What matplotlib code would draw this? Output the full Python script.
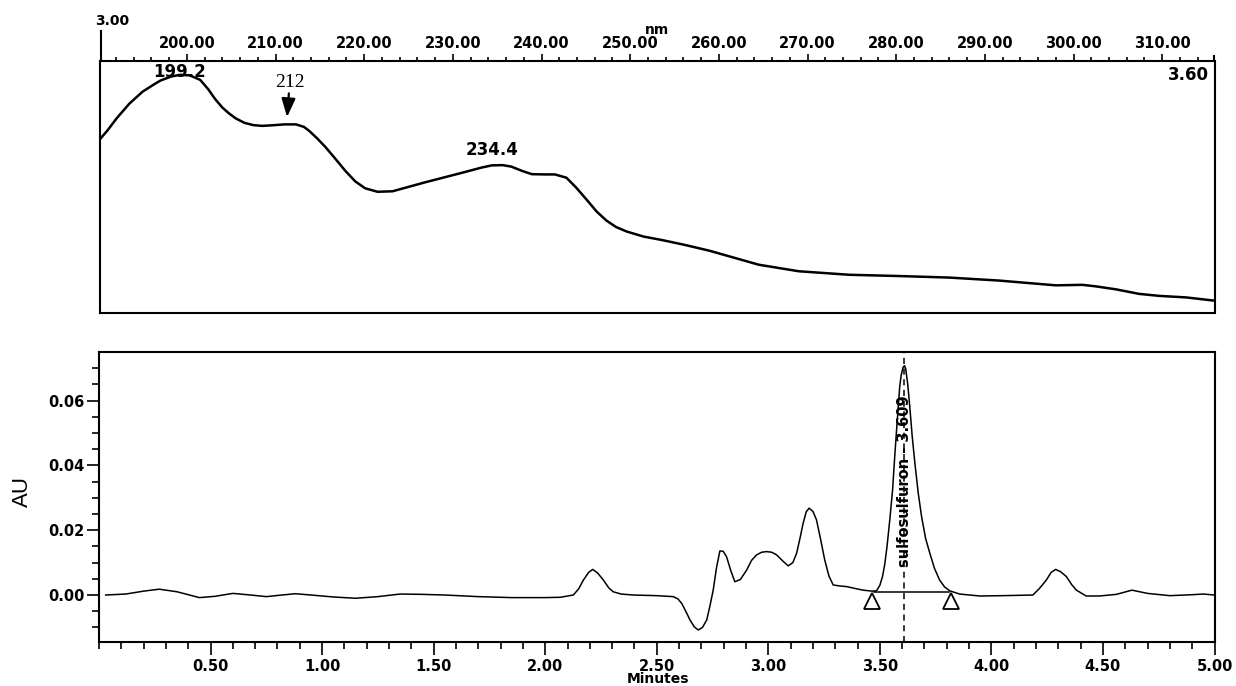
import numpy as np
import matplotlib
matplotlib.use("Agg")
import matplotlib.pyplot as plt
from matplotlib.ticker import MultipleLocator, FixedLocator
from matplotlib.lines import Line2D

# UV spectrum at 3.60 min (relative absorbance)
wavelength = [189.9, 191.0, 192.1, 193.5, 195.0, 196.2, 197.0, 198.2, 199.2, 200.3, 201.5,
              202.4, 203.2, 204.0, 204.7, 205.5, 206.5, 207.5, 208.5, 209.9, 211.0, 212.3,
              213.2, 213.8, 214.7, 215.6, 216.8, 217.9, 219.0, 220.1, 221.5, 223.2, 226.8,
              231.3, 233.2, 234.4, 235.6, 236.6, 237.8, 238.9, 240.3, 241.5, 242.8, 243.9,
              245.1, 246.2, 247.3, 248.4, 249.6, 251.5, 253.6, 256.0, 258.9, 261.5, 264.5,
              269.0, 274.7, 280.3, 285.9, 291.6, 295.3, 298.0, 301.0, 302.5, 304.8, 307.4,
              309.7, 312.7, 315.9]
absorb = [0.677, 0.722, 0.773, 0.830, 0.878, 0.905, 0.922, 0.938, 0.945, 0.943, 0.925,
          0.888, 0.848, 0.815, 0.793, 0.772, 0.754, 0.745, 0.742, 0.745, 0.748, 0.748,
          0.738, 0.722, 0.692, 0.659, 0.609, 0.562, 0.521, 0.494, 0.480, 0.482, 0.517,
          0.558, 0.576, 0.585, 0.586, 0.580, 0.563, 0.550, 0.549, 0.549, 0.536, 0.497,
          0.448, 0.402, 0.366, 0.340, 0.322, 0.302, 0.288, 0.270, 0.246, 0.220, 0.190,
          0.164, 0.150, 0.145, 0.139, 0.127, 0.116, 0.108, 0.110, 0.104, 0.092, 0.074,
          0.066, 0.060, 0.047]

# chromatogram
minutes = [0.03, 0.12, 0.20, 0.27, 0.35, 0.45, 0.52, 0.60, 0.68, 0.75, 0.82, 0.88, 0.95,
           1.05, 1.15, 1.25, 1.35, 1.45, 1.55, 1.70, 1.85, 2.00, 2.067, 2.126, 2.150,
           2.171, 2.195, 2.213, 2.235, 2.261, 2.285, 2.305, 2.340, 2.395, 2.50, 2.574,
           2.595, 2.612, 2.630, 2.649, 2.668, 2.686, 2.705, 2.724, 2.738, 2.753, 2.768,
           2.783, 2.798, 2.813, 2.832, 2.850, 2.875, 2.903, 2.925, 2.948, 2.970, 2.992,
           3.015, 3.037, 3.065, 3.089, 3.110, 3.127, 3.142, 3.156, 3.170, 3.183, 3.200,
           3.216, 3.235, 3.253, 3.272, 3.291, 3.320, 3.351, 3.390, 3.425, 3.465, 3.485,
           3.500, 3.512, 3.522, 3.532, 3.545, 3.557, 3.566, 3.575, 3.583, 3.589, 3.596,
           3.604, 3.610, 3.616, 3.625, 3.634, 3.645, 3.657, 3.672, 3.687, 3.705, 3.724,
           3.745, 3.768, 3.790, 3.813, 3.858, 3.948, 4.05, 4.186, 4.215, 4.246, 4.268,
           4.288, 4.310, 4.336, 4.360, 4.381, 4.425, 4.485, 4.56, 4.63, 4.70, 4.80,
           4.90, 4.95, 5.00]
au = [0.0000, 0.0003, 0.0012, 0.0018, 0.0010, -0.0008, -0.0004, 0.0005, 0.0000, -0.0005,
      0.0000, 0.0004, 0.0000, -0.0006, -0.0010, -0.0005, 0.0003, 0.0002, 0.0000, -0.0005,
      -0.0008, -0.0008, -0.0007, 0.0000, 0.0019, 0.0046, 0.0070, 0.0079, 0.0068, 0.0046,
      0.0022, 0.0010, 0.0003, 0.0000, -0.0002, -0.0005, -0.0012, -0.0026, -0.0050, -0.0077,
      -0.0098, -0.0108, -0.0100, -0.0077, -0.0035, 0.0015, 0.0085, 0.0136, 0.0135, 0.0118,
      0.0075, 0.0041, 0.0048, 0.0077, 0.0107, 0.0124, 0.0132, 0.0134, 0.0132, 0.0124,
      0.0105, 0.0090, 0.0100, 0.0129, 0.0175, 0.0221, 0.0257, 0.0268, 0.0258, 0.0232,
      0.0170, 0.0108, 0.0058, 0.0031, 0.0028, 0.0026, 0.0020, 0.0015, 0.0012, 0.0013,
      0.0030, 0.0057, 0.0095, 0.0149, 0.0235, 0.0324, 0.0420, 0.0510, 0.0585, 0.0643,
      0.0680, 0.0702, 0.0708, 0.0698, 0.0650, 0.0582, 0.0490, 0.0407, 0.0315, 0.0242,
      0.0175, 0.0129, 0.0082, 0.0046, 0.0025, 0.0013, 0.0003, -0.0003, -0.0002, 0.0000,
      0.0020, 0.0046, 0.0070, 0.0079, 0.0072, 0.0057, 0.0032, 0.0015, -0.0003, -0.0003,
      0.0002, 0.0015, 0.0005, -0.0002, 0.0001, 0.0003, 0.0000]

peak_rt = 3.609
peak_name = "sulfosulfuron - 3.609"
peak_start, peak_end = 3.475, 3.81
base_level = 0.0010

W, H = 1236, 686
fig = plt.figure(figsize=(W / 100, H / 100), dpi=100)
bold = dict(fontfamily="DejaVu Sans", fontweight="bold")

def px_box(x0, y0, x1, y1):
    return [x0 / W, 1 - y1 / H, (x1 - x0) / W, (y1 - y0) / H]

# ---- spectrum panel ----
ax1 = fig.add_axes(px_box(100, 61, 1214.5, 312.5))
ax1.plot(wavelength, absorb, color="black", lw=1.8)
ax1.set_xlim(190.2, 315.9)
ax1.set_ylim(0, 1)
ax1.xaxis.tick_top()
ax1.xaxis.set_minor_locator(MultipleLocator(2))
ax1.set_xticks(np.arange(200, 320, 10))
ax1.set_xticklabels(["%.2f" % v for v in np.arange(200, 320, 10)], **bold, fontsize=10.5)
ax1.tick_params(axis="x", which="major", direction="out", length=5, width=1.2, pad=2)
ax1.tick_params(axis="x", which="minor", direction="out", length=3, width=1.2)
ax1.set_yticks([])
for s in ax1.spines.values():
    s.set_linewidth(1.5)

ax1.text(199.2, 0.955, "199.2", ha="center", va="center", fontsize=12, **bold)
ax1.text(0.995, 0.945, "3.60", transform=ax1.transAxes, ha="right", va="center",
         fontsize=12, **bold)
ax1.text(234.4, 0.645, "234.4", ha="center", va="center", fontsize=12, **bold)
ax1.annotate("212", xy=(211.3, 0.777), xytext=(211.6, 0.916), ha="center", va="center",
             fontfamily="Liberation Serif", fontsize=14,
             arrowprops=dict(arrowstyle="-|>,head_length=0.8,head_width=0.3",
                             color="black", lw=1.6, shrinkA=0, shrinkB=0))

# vertical axis stub above the spectrum box
fig.add_artist(Line2D([100.5 / W, 100.5 / W], [1 - 61 / H, 1 - 31 / H], color="black", lw=1.5))
fig.add_artist(Line2D([1214.3 / W, 1214.3 / W], [1 - 61 / H, 1 - 56 / H], color="black", lw=1.5))
fig.text(112 / W, 1 - 21 / H, "3.00", ha="center", va="center", fontsize=10, **bold)
fig.text(657 / W, 1 - 30 / H, "nm", ha="center", va="center", fontsize=10, **bold)

# ---- chromatogram panel ----
ax2 = fig.add_axes(px_box(99, 352, 1214.5, 642))
ax2.plot(minutes, au, color="black", lw=1.1)
ax2.set_xlim(0, 5.0)
ax2.set_ylim(-0.0145, 0.075)
ax2.set_xticks(np.arange(0.5, 5.01, 0.5))
ax2.set_xticklabels(["%.2f" % v for v in np.arange(0.5, 5.01, 0.5)], **bold, fontsize=10.5)
ax2.xaxis.set_minor_locator(MultipleLocator(0.1))
ax2.set_yticks([0.0, 0.02, 0.04, 0.06])
ax2.set_yticklabels(["0.00", "0.02", "0.04", "0.06"], **bold, fontsize=10.5)
ax2.yaxis.set_minor_locator(FixedLocator(np.arange(-0.01, 0.0726, 0.005)))
ax2.tick_params(which="major", direction="out", length=9, width=1.2, pad=3)
ax2.tick_params(which="minor", direction="out", length=5, width=1.2)
ax2.tick_params(axis="y", pad=1.5)
for s in ax2.spines.values():
    s.set_linewidth(1.5)

ax2.set_ylabel("AU", fontfamily="Liberation Sans", fontsize=16)
ax2.yaxis.set_label_coords(-0.059, 0.52)
fig.text(658 / W, 1 - 679 / H, "Minutes", ha="center", va="center", fontsize=10, **bold)

# integration baseline and markers
ax2.plot([peak_start, peak_end], [base_level, base_level], color="black", lw=1.1)
ax2.plot([peak_start - 0.01, peak_end + 0.01], [-0.0019, -0.0019], ls="none", marker="^",
         ms=12, mfc="white", mec="black", mew=1.3)
ax2.axvline(peak_rt, color="black", lw=1.1, ls=(0, (4, 3)))
ax2.text(peak_rt, 0.035, peak_name, rotation=90, ha="center", va="center",
         fontsize=10.5, **bold)

fig.savefig("out.png", dpi=100)
